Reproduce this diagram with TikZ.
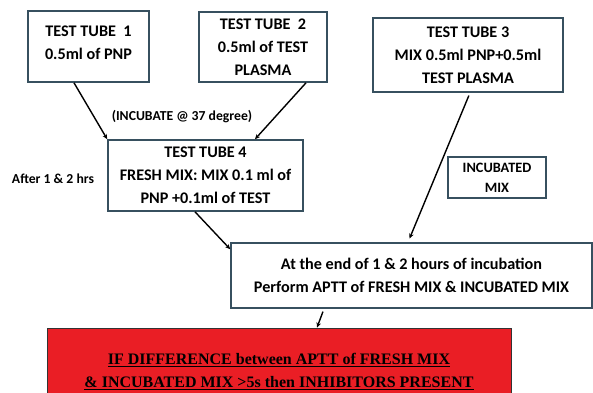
\documentclass[tikz,border=0pt]{standalone}
\usepackage{fontspec}
\setmainfont{Carlito}
\newfontfamily\timesbold{Liberation Serif}
\usetikzlibrary{shapes,calc,arrows.meta}
\definecolor{boxline}{RGB}{55,80,95}
\definecolor{alertred}{RGB}{234,30,37}

\begin{document}
\begin{tikzpicture}[x=1pt,y=-1pt,
        tubetext/.style={align=center,font=\fontsize{16.2}{23}\selectfont\bfseries},
        tubebox/.style={rectangle,draw=boxline,line width=1.6pt,fill=white,inner sep=0pt,tubetext},
        note/.style={font=\fontsize{13.7}{15}\selectfont\bfseries},
        flow/.style={-{Stealth[length=5pt,width=4.5pt]},line width=1.4pt,black}]
        \useasboundingbox (0,0) rectangle (593,392);
        \node[tubebox,minimum width=121,minimum height=71,
              label={[tubetext,anchor=north,yshift=-12]north:{TEST TUBE\ \ 1\\0.5ml of PNP}}] (tube1) at (88.5,46.5) {};
        \node[tubebox,minimum width=128,minimum height=70] (tube2) at (263,47) {TEST TUBE\ \ 2\\0.5ml of TEST\\PLASMA};
        \node[tubebox,minimum width=190,minimum height=74] (tube3) at (468,55) {TEST TUBE 3\\MIX 0.5ml PNP+0.5ml\\TEST PLASMA};
        \node[tubebox,minimum width=195,minimum height=71] (tube4) at (205.5,175.5) {TEST TUBE 4\\FRESH MIX: MIX 0.1 ml of\\PNP +0.1ml of TEST};
        \node[tubebox,minimum width=98,minimum height=41,font=\fontsize{14.3}{20}\selectfont\bfseries] (incmix) at (497,177.5) {INCUBATED\\MIX};
        \node[tubebox,minimum width=361,minimum height=65] (perform) at (411.5,275.5) {At the end of 1 \& 2 hours of incubation\\Perform APTT of FRESH MIX \& INCUBATED MIX};
        \node[rectangle,draw=black!80,line width=1pt,fill=alertred,minimum width=464,minimum height=87,align=center,
              font=\timesbold\fontsize{16}{23}\selectfont\bfseries] (alert) at (279,371.5)
              {\underline{IF DIFFERENCE between APTT of FRESH MIX}\\\underline{\& INCUBATED MIX >5s then INHIBITORS PRESENT}};
        \node[note] (incubate) at (182,117) {(INCUBATE @ 37 degree)};
        \node[note] (after) at (53,179) {After 1 \& 2 hrs};
        \draw[flow] ([xshift=-14.5]tube1.south) -- (tube4.north west);
        \draw[flow] ([xshift=43]tube2.south) -- ([xshift=49.5]tube4.north);
        \draw[flow,shorten <=3pt,shorten >=4pt] ([xshift=2]tube3.south) -- ([xshift=-3.5]perform.north);
        \draw[flow] ([xshift=-10.5]tube4.south) -- ([yshift=-7]perform.north west);
        \draw[flow,shorten <=3pt] ([xshift=-87.5]perform.south) -- ([xshift=38]alert.north);
        \end{tikzpicture}
\end{document}
